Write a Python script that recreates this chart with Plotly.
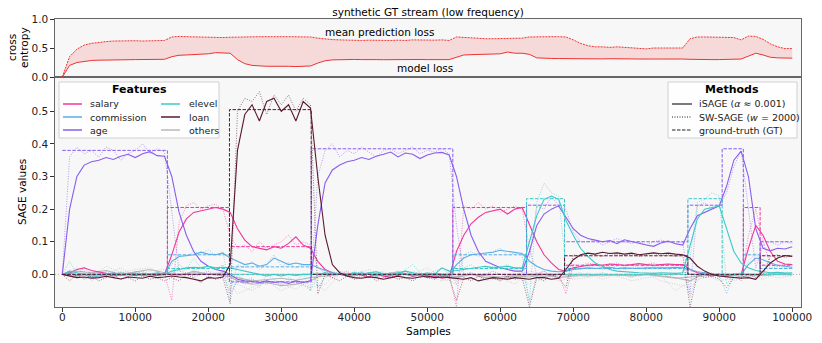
import plotly.graph_objects as go

# sample grid of the stream (every 1000 / 2000 samples)
samples = list(range(0, 100001, 1000))
samples_coarse = list(range(0, 100001, 2000))

# concept drift points of the ground truth
change_points = [0, 14400, 22900, 34100, 53500, 63600, 68800, 85700, 90400, 93300, 95600, 100000]

# top panel: losses
model_loss = [
    0.0, 0.2, 0.25, 0.27, 0.285, 0.29, 0.295, 0.3, 0.3, 0.298,
    0.3, 0.3, 0.298, 0.3, 0.305, 0.35, 0.375, 0.38, 0.385, 0.385,
    0.4, 0.42, 0.42, 0.41, 0.3, 0.23, 0.2, 0.19, 0.185, 0.185,
    0.19, 0.185, 0.18, 0.18, 0.19, 0.24, 0.28, 0.295, 0.3, 0.3,
    0.302, 0.3, 0.305, 0.3, 0.298, 0.3, 0.305, 0.3, 0.3, 0.302,
    0.3, 0.305, 0.3, 0.3, 0.34, 0.38, 0.385, 0.39, 0.39, 0.395,
    0.4, 0.43, 0.41, 0.41, 0.39, 0.33, 0.32, 0.32, 0.318, 0.315,
    0.315, 0.31, 0.315, 0.31, 0.312, 0.315, 0.31, 0.308, 0.312, 0.31,
    0.315, 0.31, 0.31, 0.312, 0.31, 0.31, 0.305, 0.3, 0.302, 0.3,
    0.3, 0.302, 0.3, 0.31, 0.36, 0.41, 0.38, 0.34, 0.33, 0.325,
    0.325,
]
mean_pred_loss = [
    0.0, 0.35, 0.48, 0.55, 0.58, 0.6, 0.61, 0.62, 0.625, 0.62,
    0.625, 0.62, 0.625, 0.62, 0.63, 0.69, 0.7, 0.695, 0.69, 0.685,
    0.685, 0.68, 0.68, 0.685, 0.69, 0.695, 0.695, 0.695, 0.695, 0.69,
    0.695, 0.695, 0.69, 0.69, 0.69, 0.67, 0.655, 0.645, 0.64, 0.635,
    0.625, 0.63, 0.635, 0.63, 0.625, 0.63, 0.635, 0.63, 0.64, 0.635,
    0.63, 0.635, 0.64, 0.63, 0.69, 0.68, 0.67, 0.665, 0.66, 0.66,
    0.665, 0.66, 0.665, 0.67, 0.69, 0.695, 0.695, 0.695, 0.695, 0.69,
    0.64, 0.58, 0.54, 0.52, 0.52, 0.51, 0.52, 0.51, 0.5, 0.495,
    0.485, 0.5, 0.5, 0.505, 0.5, 0.5, 0.66, 0.69, 0.69, 0.69,
    0.69, 0.685, 0.68, 0.64, 0.705, 0.7, 0.65, 0.57, 0.52, 0.49,
    0.49,
]

# ground truth per segment
gt_salary = [0, 0.205, 0.085, 0, 0.205, 0, 0.028, 0, 0, 0.205, 0.028]
gt_commission = [0, 0.06, 0.023, 0, 0.06, 0, 0.018, 0, 0, 0.06, 0.018]
gt_age = [0.38, 0, -0.023, 0.385, 0, 0.212, 0.1, 0.212, 0.385, 0, 0.1]
gt_elevel = [0, 0.018, 0, 0, 0.018, 0.232, 0, 0.232, 0, 0, 0]
gt_loan = [0, 0, 0.505, 0, 0, 0, 0.057, 0, 0, 0, 0.057]
gt_others = [0, 0, 0, 0, 0, 0, 0, 0, 0, 0, 0]

# iSAGE / SW-SAGE estimates
salary_isage = [
    0.0, 0.005, 0.015, 0.02, 0.012, 0.008, 0.003, -0.005, -0.002, 0.0,
    -0.004, 0.002, 0.0, -0.003, 0.0, 0.06, 0.13, 0.17, 0.19, 0.195,
    0.2, 0.205, 0.2, 0.19, 0.14, 0.105, 0.085, 0.08, 0.075, 0.085,
    0.08, 0.095, 0.115, 0.09, 0.08, 0.04, 0.015, 0.005, 0.0, -0.005,
    0.003, -0.002, -0.008, 0.0, -0.004, -0.01, -0.003, 0.002, -0.006, 0.0,
    -0.01, -0.005, -0.012, -0.008, 0.07, 0.12, 0.155, 0.175, 0.19, 0.195,
    0.2, 0.185, 0.2, 0.205, 0.15, 0.1, 0.06, 0.035, 0.015, 0.01,
    0.02, 0.025, 0.028, 0.03, 0.028, 0.032, 0.03, 0.028, 0.03, 0.033,
    0.03, 0.028, 0.03, 0.032, 0.03, 0.03, 0.015, 0.005, 0.0, -0.005,
    0.0, -0.005, 0.0, 0.0, 0.08, 0.15, 0.12, 0.07, 0.04, 0.032,
    0.03,
]
salary_sw = [
    0.0, 0.01, -0.005, 0.02, 0.0, 0.01, -0.01, 0.005, 0.0, -0.008,
    0.01, 0.0, -0.005, 0.005, 0.0, -0.08, 0.16, 0.21, 0.22, 0.2,
    0.21, 0.215, 0.2, 0.12, 0.08, 0.09, 0.07, 0.1, 0.08, 0.09,
    0.1, 0.12, 0.09, 0.1, 0.09, 0.02, 0.005, -0.01, 0.0, 0.01,
    -0.005, 0.0, 0.005, -0.01, 0.0, 0.005, -0.005, 0.01, 0.0, -0.01,
    0.005, 0.0, -0.005, 0.0, -0.1, 0.21, 0.2, 0.22, 0.2, 0.21,
    0.19, 0.2, 0.21, 0.2, 0.08, 0.0, 0.01, -0.005, 0.0, -0.06,
    0.03, 0.025, 0.035, 0.03, 0.02, 0.03, 0.035, 0.025, 0.03, 0.02,
    0.03, 0.035, 0.025, 0.03, 0.03, 0.025, 0.0, -0.005, 0.0, 0.005,
    -0.01, 0.0, 0.0, -0.02, 0.12, 0.2, 0.1, 0.03, 0.025, 0.03,
    0.03,
]
commission_isage = [
    0.0, 0.005, -0.005, 0.0, -0.01, -0.005, 0.0, 0.005, -0.003, 0.0,
    0.004, -0.002, 0.0, 0.003, 0.0, 0.04, 0.055, 0.058, 0.06, 0.068,
    0.062, 0.06, 0.065, 0.05, 0.04, 0.03, 0.035, 0.025, 0.03, 0.05,
    0.04, 0.03, 0.035, 0.03, 0.03, 0.02, 0.012, 0.005, 0.0, -0.003,
    0.0, 0.005, 0.0, -0.005, 0.0, -0.004, 0.002, 0.0, -0.005, 0.0,
    -0.002, 0.003, 0.0, -0.003, 0.03, 0.05, 0.06, 0.062, 0.066, 0.068,
    0.074, 0.07, 0.066, 0.064, 0.04, 0.025, 0.015, 0.01, 0.008, 0.01,
    0.015, 0.018, 0.02, 0.018, 0.02, 0.022, 0.018, 0.02, 0.019, 0.018,
    0.02, 0.02, 0.018, 0.02, 0.022, 0.02, 0.015, 0.008, 0.005, 0.0,
    0.0, -0.005, 0.0, 0.0, 0.03, 0.05, 0.045, 0.035, 0.028, 0.025,
    0.022,
]
commission_sw = [
    0.0, 0.01, -0.01, 0.005, -0.02, 0.0, 0.01, -0.005, 0.005, -0.01,
    0.0, 0.01, -0.005, 0.0, 0.005, 0.03, 0.06, 0.055, 0.07, 0.065,
    0.075, 0.06, 0.07, -0.05, 0.03, 0.02, 0.04, 0.015, 0.03, 0.06,
    0.025, 0.035, 0.02, 0.03, 0.03, -0.04, -0.01, 0.0, 0.01, -0.005,
    0.0, 0.01, -0.01, 0.0, 0.005, -0.01, 0.0, 0.01, -0.005, 0.0,
    0.005, -0.01, 0.0, 0.005, -0.03, 0.06, 0.07, 0.055, 0.065, 0.07,
    0.08, 0.06, 0.065, 0.06, -0.09, 0.0, 0.01, -0.005, 0.0, 0.01,
    0.02, 0.015, 0.025, 0.02, 0.015, 0.02, 0.025, 0.015, 0.02, 0.02,
    0.015, 0.025, 0.02, 0.015, 0.02, 0.02, -0.07, 0.0, 0.005, -0.005,
    0.0, -0.06, 0.0, -0.01, 0.04, 0.065, 0.03, 0.02, 0.025, 0.02,
    0.02,
]
age_isage = [
    0.0, 0.2, 0.3, 0.335, 0.345, 0.35, 0.358, 0.352, 0.362, 0.368,
    0.358, 0.37, 0.376, 0.364, 0.362, 0.3, 0.19, 0.12, 0.07, 0.04,
    0.025, 0.015, 0.01, 0.0, -0.015, -0.02, -0.022, -0.025, -0.02, -0.025,
    -0.022, -0.028, -0.02, -0.025, -0.02, 0.15, 0.28, 0.32, 0.335, 0.345,
    0.35, 0.358, 0.352, 0.362, 0.368, 0.375, 0.36, 0.372, 0.368, 0.355,
    0.366, 0.372, 0.374, 0.366, 0.3, 0.2, 0.12, 0.07, 0.04, 0.03,
    0.02, 0.015, 0.01, 0.01, 0.07, 0.15, 0.185, 0.2, 0.21, 0.175,
    0.14, 0.12, 0.11, 0.105, 0.1, 0.104, 0.094, 0.106, 0.1, 0.096,
    0.09, 0.086, 0.096, 0.102, 0.094, 0.09, 0.14, 0.18, 0.19, 0.2,
    0.21, 0.27, 0.35, 0.378, 0.3, 0.14, 0.08, 0.072, 0.08, 0.078,
    0.085,
]
age_sw = [
    0.0, 0.36, 0.39, 0.37, 0.38, 0.36, 0.39, 0.38, 0.35, 0.37,
    0.38, 0.4, 0.37, 0.385, 0.375, 0.2, 0.01, 0.005, -0.005, 0.0,
    0.01, -0.005, 0.0, -0.06, -0.02, -0.03, -0.015, -0.025, -0.03, -0.02,
    -0.035, -0.02, -0.025, -0.03, -0.05, 0.3, 0.38, 0.4, 0.36, 0.38,
    0.37, 0.39, 0.375, 0.36, 0.38, 0.385, 0.37, 0.38, 0.39, 0.37,
    0.38, 0.375, 0.385, 0.37, 0.15, 0.0, 0.005, -0.005, 0.0, 0.01,
    0.0, -0.005, 0.0, 0.005, 0.05, 0.21, 0.2, 0.24, 0.21, 0.2,
    0.13, 0.1, 0.1, 0.105, 0.09, 0.1, 0.11, 0.1, 0.095, 0.1,
    0.09, 0.1, 0.105, 0.1, 0.095, 0.1, -0.06, 0.21, 0.22, 0.2,
    0.21, 0.25, 0.33, 0.38, 0.2, 0.02, 0.09, 0.1, 0.09, 0.1,
    0.095,
]
elevel_isage = [
    0.0, 0.01, 0.005, 0.0, -0.005, 0.0, 0.003, 0.0, -0.004, 0.002,
    0.0, -0.003, 0.0, 0.004, 0.0, 0.01, 0.015, 0.02, 0.022, 0.02,
    0.025, 0.02, 0.022, 0.02, 0.015, 0.01, 0.005, 0.0, -0.005, 0.0,
    -0.005, 0.0, -0.003, 0.0, 0.0, 0.0, 0.005, 0.0, 0.003, 0.0,
    0.005, 0.0, 0.004, 0.008, 0.002, 0.0, 0.005, 0.01, 0.005, 0.0,
    0.004, 0.0, 0.02, 0.01, 0.012, 0.015, 0.02, 0.022, 0.025, 0.02,
    0.022, 0.025, 0.02, 0.02, 0.1, 0.18, 0.23, 0.24, 0.23, 0.165,
    0.12, 0.08, 0.055, 0.035, 0.025, 0.015, 0.01, 0.008, 0.005, 0.005,
    0.004, 0.003, 0.005, 0.004, 0.003, 0.005, 0.09, 0.17, 0.2, 0.205,
    0.21, 0.14, 0.07, 0.035, 0.02, 0.012, 0.008, 0.005, 0.006, 0.004,
    0.005,
]
elevel_sw = [
    0.0, 0.04, 0.0, 0.01, -0.01, 0.005, 0.0, -0.005, 0.01, 0.0,
    -0.01, 0.005, 0.0, 0.01, -0.005, 0.005, 0.03, 0.015, 0.05, 0.02,
    0.025, 0.015, 0.03, -0.08, 0.0, -0.02, -0.01, -0.04, 0.0, -0.015,
    -0.03, -0.01, -0.02, 0.0, -0.05, 0.005, 0.0, 0.01, 0.0, -0.005,
    0.01, 0.0, 0.005, 0.01, 0.0, 0.005, -0.005, 0.015, 0.03, 0.005,
    0.0, 0.01, 0.02, 0.0, -0.02, 0.02, 0.03, 0.015, 0.02, 0.025,
    0.02, 0.03, 0.015, 0.02, -0.08, 0.22, 0.28, 0.25, 0.24, 0.02,
    0.0, 0.005, -0.005, 0.0, 0.005, 0.0, -0.005, 0.0, 0.005, -0.005,
    0.0, 0.005, 0.0, -0.005, 0.0, 0.005, 0.05, 0.22, 0.23, 0.25,
    0.24, -0.03, 0.0, 0.005, 0.0, -0.005, 0.0, 0.005, 0.0, 0.005,
    0.0,
]
loan_isage = [
    0.0, -0.005, -0.01, -0.008, -0.012, -0.01, -0.006, -0.01, -0.014, -0.008,
    -0.01, -0.012, -0.006, -0.01, -0.008, -0.005, -0.008, -0.01, -0.015, -0.02,
    -0.01, -0.012, -0.008, 0.03, 0.38, 0.49, 0.52, 0.47, 0.53, 0.54,
    0.5, 0.52, 0.47, 0.53, 0.51, 0.3, 0.12, 0.03, 0.005, -0.005,
    -0.01, -0.012, -0.008, -0.01, -0.015, -0.01, -0.006, -0.01, -0.012, -0.008,
    -0.005, -0.01, -0.008, -0.01, -0.012, -0.015, -0.01, -0.02, -0.015, -0.01,
    -0.012, -0.015, -0.01, -0.012, -0.015, -0.01, -0.01, -0.015, -0.012, 0.015,
    0.045, 0.06, 0.065, 0.062, 0.068, 0.064, 0.066, 0.062, 0.065, 0.06,
    0.064, 0.066, 0.063, 0.065, 0.062, 0.06, 0.05, 0.025, 0.01, 0.0,
    -0.005, -0.008, -0.01, -0.012, -0.01, -0.015, 0.01, 0.035, 0.05, 0.058,
    0.055,
]
loan_sw = [
    0.0, -0.02, 0.0, -0.015, -0.005, -0.02, -0.01, 0.0, -0.015, -0.01,
    -0.02, -0.005, -0.015, -0.01, -0.02, -0.01, -0.02, 0.0, -0.01, -0.025,
    -0.005, -0.015, -0.01, -0.09, 0.5, 0.54, 0.53, 0.56, 0.49, 0.55,
    0.52, 0.55, 0.5, 0.54, 0.52, -0.06, 0.0, -0.01, -0.02, -0.005,
    -0.015, -0.01, 0.0, -0.02, -0.01, -0.005, -0.015, -0.01, -0.02, -0.005,
    -0.01, -0.015, 0.0, -0.01, -0.08, -0.01, -0.02, -0.005, -0.015, -0.01,
    -0.02, -0.005, -0.015, -0.01, -0.1, -0.01, -0.02, 0.0, -0.01, -0.04,
    0.06, 0.055, 0.065, 0.06, 0.055, 0.065, 0.06, 0.058, 0.062, 0.055,
    0.06, 0.065, 0.058, 0.06, 0.055, 0.06, -0.1, 0.0, -0.01, -0.005,
    -0.015, -0.04, -0.01, -0.01, 0.0, -0.01, 0.0, 0.055, 0.06, 0.052,
    0.058,
]

# remaining features ("others"), every 2000 samples
others_isage_a = [
    0.0, 0.01, 0.005, 0.012, 0.0, 0.008, 0.015, 0.005, -0.005, 0.01,
    0.0, 0.005, -0.02, -0.03, -0.025, -0.035, -0.03, -0.02, 0.005, 0.0,
    -0.005, 0.005, 0.0, 0.008, -0.005, 0.0, -0.005, -0.01, 0.0, -0.01,
    -0.015, -0.005, -0.008, 0.0, -0.01, -0.005, 0.0, -0.005, 0.0, -0.005,
    0.0, -0.005, -0.01, -0.02, 0.005, -0.005, -0.01, -0.005, 0.0, 0.005,
    0.0,
]
others_isage_b = [
    0.0, -0.005, 0.002, -0.003, 0.005, 0.0, -0.006, 0.003, 0.0, 0.005,
    0.002, -0.004, -0.01, -0.02, -0.015, -0.012, -0.018, -0.01, -0.005, 0.0,
    0.004, 0.0, -0.003, 0.002, 0.0, -0.004, -0.002, -0.006, 0.0, -0.003,
    -0.008, -0.004, -0.002, -0.006, 0.0, -0.003, -0.005, 0.0, -0.002, -0.004,
    0.0, -0.006, -0.012, -0.008, -0.004, 0.0, -0.003, 0.0, -0.004, 0.0,
    -0.002,
]
others_sw_a = [
    0.0, 0.02, -0.01, 0.025, 0.005, 0.015, 0.02, -0.005, 0.01, 0.02,
    -0.01, 0.01, -0.06, -0.04, -0.02, -0.05, -0.03, -0.04, -0.03, 0.01,
    0.0, 0.015, -0.01, 0.01, 0.0, 0.02, -0.01, -0.03, 0.005, -0.02,
    -0.01, -0.03, 0.01, 0.0, -0.02, -0.01, 0.005, -0.015, 0.0, -0.01,
    0.005, -0.02, -0.03, -0.04, 0.0, -0.02, -0.01, 0.0, -0.015, 0.005,
    0.0,
]
others_sw_b = [
    0.0, -0.01, 0.01, 0.0, 0.02, -0.005, 0.01, 0.015, 0.0, -0.01,
    0.01, 0.0, -0.03, -0.05, -0.02, -0.03, -0.045, -0.02, -0.05, 0.0,
    -0.01, 0.0, 0.01, -0.015, 0.01, -0.005, -0.02, -0.01, -0.015, 0.0,
    -0.02, -0.005, -0.03, -0.01, 0.0, -0.015, -0.01, 0.0, -0.005, -0.02,
    -0.01, -0.005, -0.05, -0.02, -0.01, 0.0, -0.02, -0.005, 0.0, -0.01,
    -0.005,
]

COLORS = {
    "salary": "#f0369f",
    "commission": "#5aaee6",
    "age": "#8a5cf0",
    "elevel": "#3cc8c8",
    "loan": "#5a1930",
    "others": "#b8b8b8",
}
FONT = "DejaVu Sans"


def add_loss_panel(fig):
    fig.add_trace(go.Scatter(
        x=samples, y=model_loss, mode="lines", xaxis="x2", yaxis="y2",
        line=dict(color="#ee3333", width=1),
    ))
    fig.add_trace(go.Scatter(
        x=samples, y=mean_pred_loss, mode="lines", xaxis="x2", yaxis="y2",
        line=dict(color="#ee3333", width=1, dash="2px,1px"),
        fill="tonexty", fillcolor="rgba(240,60,60,0.16)",
    ))


def add_feature(fig, color, x, sw, isage, gt):
    if sw is not None:
        fig.add_trace(go.Scatter(
            x=x, y=sw, mode="lines", opacity=0.65,
            line=dict(color=color, width=0.9, dash="1px,1.5px"),
        ))
    if isage is not None:
        fig.add_trace(go.Scatter(
            x=x, y=isage, mode="lines",
            line=dict(color=color, width=1.1),
        ))
    if gt is not None:
        fig.add_trace(go.Scatter(
            x=change_points, y=gt + [gt[-1]], mode="lines", line_shape="hv",
            line=dict(color=color, width=1, dash="3.5px,1.5px"),
        ))


def px_x(p):
    return (p - 55) / 746


def px_y(p):
    return (307 - p) / 288


def add_legends(fig):
    shapes = []
    annotations = []
    for x0, x1 in [(59, 219), (668, 797)]:
        shapes.append(dict(
            type="rect", xref="paper", yref="paper",
            x0=px_x(x0), x1=px_x(x1), y0=px_y(138), y1=px_y(82),
            fillcolor="rgba(255,255,255,0.85)", line=dict(color="#d0d0d0", width=1),
        ))
    annotations.append(dict(x=px_x(139), y=px_y(89), text="<b>Features</b>",
                            font=dict(size=11, family=FONT, color="black")))
    annotations.append(dict(x=px_x(732), y=px_y(89), text="<b>Methods</b>",
                            font=dict(size=11, family=FONT, color="black")))

    rows = [104, 117, 130]
    feature_cols = [
        (63, 82, 88, ["salary", "commission", "age"]),
        (161, 180, 187, ["elevel", "loan", "others"]),
    ]
    for lx0, lx1, tx, names in feature_cols:
        for row, name in zip(rows, names):
            shapes.append(dict(type="line", xref="paper", yref="paper",
                               x0=px_x(lx0), x1=px_x(lx1), y0=px_y(row), y1=px_y(row),
                               line=dict(color=COLORS[name], width=1.5)))
            annotations.append(dict(x=px_x(tx), y=px_y(row), text=name, xanchor="left",
                                    font=dict(size=9.5, family=FONT, color="#222")))

    methods = [
        ("iSAGE (<i>α</i> ≈ 0.001)", "solid"),
        ("SW-SAGE (<i>w</i> = 2000)", "1px,1.5px"),
        ("ground-truth (GT)", "3.5px,1.5px"),
    ]
    for row, (label, dash) in zip(rows, methods):
        shapes.append(dict(type="line", xref="paper", yref="paper",
                           x0=px_x(672), x1=px_x(692), y0=px_y(row), y1=px_y(row),
                           line=dict(color="#222", width=1.2, dash=dash)))
        annotations.append(dict(x=px_x(697), y=px_y(row), text=label, xanchor="left",
                                font=dict(size=9.5, family=FONT, color="#222")))

    for a in annotations:
        a.update(xref="paper", yref="paper", showarrow=False)
        a.setdefault("xanchor", "center")
        a.setdefault("yanchor", "middle")
    return shapes, annotations


fig = go.Figure()
add_loss_panel(fig)

add_feature(fig, COLORS["others"], samples_coarse, others_sw_a, others_isage_a, gt_others)
add_feature(fig, COLORS["others"], samples_coarse, others_sw_b, others_isage_b, None)
add_feature(fig, COLORS["salary"], samples, salary_sw, salary_isage, gt_salary)
add_feature(fig, COLORS["commission"], samples, commission_sw, commission_isage, gt_commission)
add_feature(fig, COLORS["age"], samples, age_sw, age_isage, gt_age)
add_feature(fig, COLORS["elevel"], samples, elevel_sw, elevel_isage, gt_elevel)
add_feature(fig, COLORS["loan"], samples, loan_sw, loan_isage, gt_loan)

legend_shapes, legend_annotations = add_legends(fig)

zero_line = dict(type="line", xref="paper", yref="y", x0=0, x1=1, y0=0, y1=0,
                 line=dict(color="#999", width=0.8, dash="1px,2px"), layer="below")

label_font = dict(size=10.5, family=FONT, color="black")
text_annotations = [
    dict(x=43400, y=0.78, xref="x2", yref="y2", text="mean prediction loss", font=label_font),
    dict(x=49700, y=0.15, xref="x2", yref="y2", text="model loss", font=label_font),
    dict(x=px_x(22), y=px_y(192), xref="paper", yref="paper", text="SAGE values",
         textangle=-90, font=label_font),
    dict(x=px_x(12), y=px_y(48), xref="paper", yref="paper", text="cross",
         textangle=-90, font=label_font),
    dict(x=px_x(24), y=px_y(48), xref="paper", yref="paper", text="entropy",
         textangle=-90, font=label_font),
    dict(x=0.5, y=px_y(331), xref="paper", yref="paper", text="Samples", font=label_font),
]
for a in text_annotations:
    a.update(showarrow=False, xanchor="center", yanchor="middle")

axis_common = dict(showgrid=False, zeroline=False, showline=True, mirror=True,
                   linecolor="#666", linewidth=1.3, ticks="outside", ticklen=3.5,
                   tickwidth=1, tickcolor="#333", automargin=False,
                   tickfont=dict(size=10.5, family=FONT, color="#222"))

split = 230 / 288
fig.update_layout(
    width=822, height=343,
    margin=dict(l=55, r=21, t=19, b=36, autoexpand=False),
    paper_bgcolor="white", plot_bgcolor="#f7f7f7",
    showlegend=False,
    title=dict(text="synthetic GT stream (low frequency)", x=(55 + 801) / 2 / 822, xanchor="center",
               y=1 - 12 / 343, yanchor="middle", font=label_font),
    font=dict(family=FONT, size=10.5, color="#222"),
    xaxis=dict(axis_common, domain=[0, 1], anchor="y", range=[-1000, 101200],
               tickvals=list(range(0, 100001, 10000)), tickformat="d",
               ticklabelstandoff=-3),
    yaxis=dict(axis_common, domain=[0, split], anchor="x", range=[-0.1, 0.605],
               tickvals=[0, 0.1, 0.2, 0.3, 0.4, 0.5], tickformat=".1f"),
    xaxis2=dict(axis_common, domain=[0, 1], anchor="y2", matches="x",
                showticklabels=False, ticks=""),
    yaxis2=dict(axis_common, domain=[split, 1], anchor="x2", range=[0, 1],
                tickvals=[0, 0.5, 1.0], tickformat=".1f"),
    shapes=[zero_line] + legend_shapes,
    annotations=text_annotations + legend_annotations,
)

# the page body has a default 8px margin; drop it so the figure sits at the window origin
fig.write_html(
    "out.html",
    config={"displayModeBar": False},
    post_script="document.body.style.margin='0';document.body.style.overflow='hidden';",
)
